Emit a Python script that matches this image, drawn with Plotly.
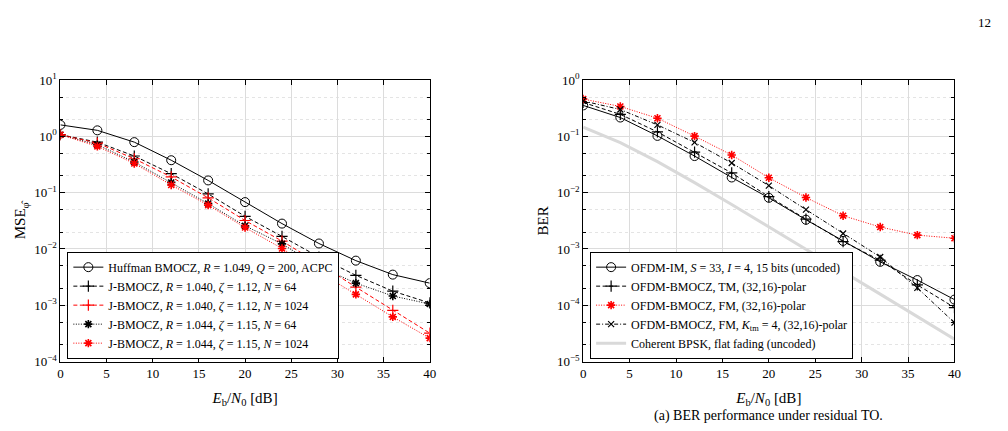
import plotly.graph_objects as go

snr = [0, 4, 8, 12, 16, 20, 24, 28, 32, 36, 40]

# Left panel: MSE
mse_huffman = [1.6, 1.28, 0.79, 0.377, 0.165, 0.068, 0.0282, 0.0125, 0.0062, 0.0035, 0.00247]
mse_j64_a = [1.07, 0.79, 0.448, 0.217, 0.095, 0.038, 0.0167, 0.00718, 0.0034, 0.00178, 0.00110]
mse_j1024_a = [1.07, 0.76, 0.40, 0.19, 0.081, 0.032, 0.0138, 0.0055, 0.0021, 0.00081, 0.00032]
mse_j64_b = [1.07, 0.71, 0.35, 0.152, 0.064, 0.0257, 0.0123, 0.0049, 0.00247, 0.00146, 0.00105]
mse_j1024_b = [1.07, 0.665, 0.33, 0.137, 0.060, 0.024, 0.0102, 0.0039, 0.00156, 0.00062, 0.00026]

# Right panel: BER
ber_im = [0.355, 0.216, 0.102, 0.0447, 0.0186, 0.0081, 0.0033, 0.00139, 0.00059, 0.00028, 0.000126]
ber_tm = [0.40, 0.246, 0.12, 0.0525, 0.0224, 0.0085, 0.0034, 0.00135, 0.00063, 0.00023, 0.000091]
ber_fm = [0.46, 0.34, 0.21, 0.101, 0.0467, 0.0184, 0.0082, 0.0039, 0.00245, 0.00176, 0.00155]
ber_fm_k4 = [0.426, 0.30, 0.16, 0.078, 0.0336, 0.0133, 0.0050, 0.00188, 0.00072, 0.000203, 0.000049]
ber_bpsk = [0.146, 0.0771, 0.0355, 0.01506, 0.00616, 0.00248, 0.000992, 0.000396, 0.0001577, 0.0000628, 0.000025]

xticks = [0, 5, 10, 15, 20, 25, 30, 35, 40]
left_exp = [-4, -3, -2, -1, 0, 1]
right_exp = [-5, -4, -3, -2, -1, 0]

def lbl(e):
    return "10<sup>" + str(e).replace("-", "\u2212") + "</sup>"

FONT = "Liberation Serif"
DASH = "4px,2.5px"
DOT = "1px,1.5px"
DASHDOT = "4px,2px,1px,2px"
fig = go.Figure()

def add(x, y, name, color, dash, symbol, msize, xa, ya, legend, width=1.0, mlw=1.0, mode="lines+markers"):
    fig.add_trace(go.Scatter(
        x=x, y=y, name=name, mode=mode, xaxis=xa, yaxis=ya, legend=legend,
        line=dict(color=color, dash=dash, width=width),
        marker=dict(symbol=symbol, size=msize, color=color, line=dict(color=color, width=mlw)),
    ))

add(snr, mse_huffman, "Huffman BMOCZ, <i>R</i> = 1.049, <i>Q</i> = 200, ACPC", "black", "solid", "circle-open", 9, "x", "y", "legend")
add(snr, mse_j64_a, "J-BMOCZ, <i>R</i> = 1.040, <i>ζ</i> = 1.12, <i>N</i> = 64", "black", DASH, "cross-thin-open", 8, "x", "y", "legend", mlw=1.2)
add(snr, mse_j1024_a, "J-BMOCZ, <i>R</i> = 1.040, <i>ζ</i> = 1.12, <i>N</i> = 1024", "red", DASH, "cross-thin-open", 8, "x", "y", "legend", mlw=1.2)
add(snr, mse_j64_b, "J-BMOCZ, <i>R</i> = 1.044, <i>ζ</i> = 1.15, <i>N</i> = 64", "black", DOT, "asterisk-open", 7, "x", "y", "legend", mlw=1.6)
add(snr, mse_j1024_b, "J-BMOCZ, <i>R</i> = 1.044, <i>ζ</i> = 1.15, <i>N</i> = 1024", "red", DOT, "asterisk-open", 7, "x", "y", "legend", mlw=1.6)

add(snr, ber_im, "OFDM-IM, <i>S</i> = 33, <i>I</i> = 4, 15 bits (uncoded)", "black", "solid", "circle-open", 9, "x2", "y2", "legend2")
add(snr, ber_tm, "OFDM-BMOCZ, TM, (32,16)-polar", "black", DASH, "cross-thin-open", 8, "x2", "y2", "legend2", mlw=1.2)
add(snr, ber_fm, "OFDM-BMOCZ, FM, (32,16)-polar", "red", DOT, "asterisk-open", 7, "x2", "y2", "legend2", mlw=1.6)
add(snr, ber_fm_k4, "OFDM-BMOCZ, FM, <i>K</i><sub>tm</sub> = 4, (32,16)-polar", "black", DASHDOT, "x-thin-open", 6, "x2", "y2", "legend2", mlw=1.2)
add(snr, ber_bpsk, "Coherent BPSK, flat fading (uncoded)", "#d9d9d9", "solid", "circle", 1, "x2", "y2", "legend2", width=3, mode="lines")

W, H = 1008, 431
def px_x(p):
    return p / W
def px_y(p):
    return (H - p) / H

xdom1 = [px_x(58), px_x(431)]
xdom2 = [px_x(586), px_x(961)]
ydom = [px_y(367), px_y(74)]

common_x = dict(
    range=[0, 40], tickvals=xticks, ticks="inside", ticklen=5, tickcolor="black",
    showline=True, linecolor="black", linewidth=1, mirror="allticks",
    showgrid=True, gridcolor="#dcdcdc", gridwidth=1, zeroline=False,
    tickfont=dict(family=FONT, size=13, color="black"),
    title=dict(text="<i>E</i><sub>b</sub>/<i>N</i><sub>0</sub> [dB]", font=dict(family=FONT, size=15, color="black"), standoff=12),
)
def ymaker(exps, title):
    return dict(
        type="log", range=[exps[0], exps[-1]],
        tickvals=[10 ** e for e in exps], ticktext=[lbl(e) for e in exps],
        ticks="inside", ticklen=5, tickcolor="black",
        showline=True, linecolor="black", linewidth=1, mirror="allticks",
        showgrid=True, gridcolor="#dcdcdc", gridwidth=1, zeroline=False,
        minor=dict(ticks="inside", ticklen=3, tickcolor="black", showgrid=True,
                   gridcolor="#e4e4e4", griddash="dot", gridwidth=1),
        tickfont=dict(family=FONT, size=13, color="black"),
        title=dict(text=title, font=dict(family=FONT, size=15, color="black"), standoff=4),
    )

legend_common = dict(xanchor="left", yanchor="bottom",
                     bgcolor="white", bordercolor="black", borderwidth=1,
                     font=dict(family=FONT, size=12, color="black"), tracegroupgap=0,
                     itemwidth=30)

fig.update_layout(
    width=W, height=H, margin=dict(l=0, r=0, t=0, b=0),
    plot_bgcolor="white", paper_bgcolor="white",
    font=dict(family=FONT, color="black"),
    xaxis=dict(domain=xdom1, anchor="y", **common_x),
    yaxis=dict(domain=ydom, anchor="x", **ymaker(left_exp, "MSE<sub>\u03c6\u0302</sub>")),
    xaxis2=dict(domain=xdom2, anchor="y2", **common_x),
    yaxis2=dict(domain=ydom, anchor="x2", **ymaker(right_exp, "BER")),
    legend=dict(x=px_x(65), y=px_y(364), **legend_common),
    legend2=dict(x=px_x(593), y=px_y(364), **legend_common),
    annotations=[
        dict(text="(a) BER performance under residual TO.", x=px_x(773), y=px_y(424),
             xref="paper", yref="paper", showarrow=False, xanchor="center", yanchor="middle",
             font=dict(family=FONT, size=14, color="black")),
        dict(text="12", x=px_x(1000), y=px_y(14), xref="paper", yref="paper", showarrow=False,
             xanchor="right", yanchor="middle", font=dict(family=FONT, size=13, color="black")),
    ],
)

fig.write_html("out.html")
